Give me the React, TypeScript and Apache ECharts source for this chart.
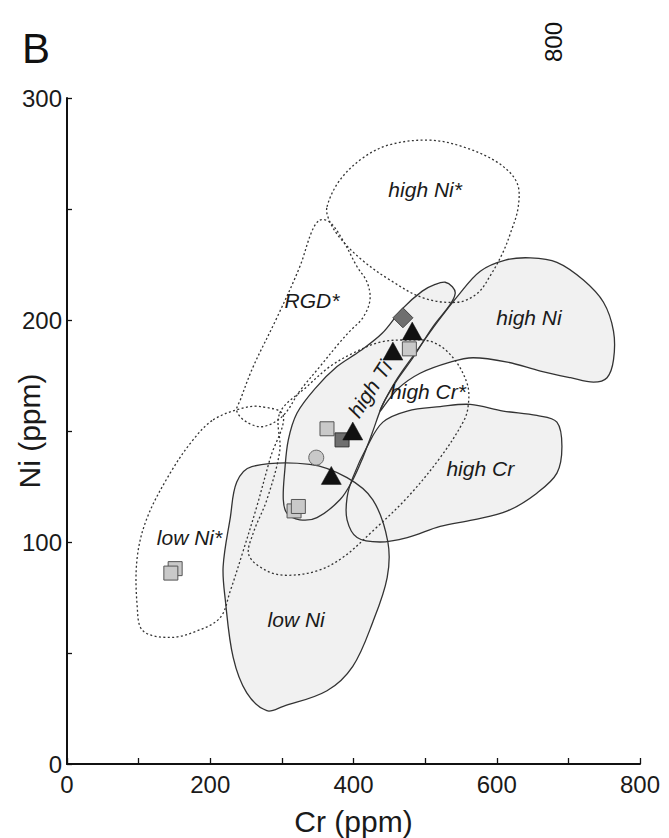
import React, { useEffect, useRef } from "react";
import * as echarts from "echarts";

// ---- axes ----
const xRange = [0, 800];
const xStep = 100;
const xLabelStep = 200;
const yRange = [0, 300];
const yStep = 50;
const yLabelStep = 100;

// ---- field outlines (Cr ppm, Ni ppm) ----
const lowNiField = [
  [258, 134], [339, 135], [391, 129], [427, 119], [448, 100], [447, 84], [427, 64], [399, 44],
  [363, 33], [302, 26], [279, 24], [251, 32], [232, 48], [221, 74], [218, 89], [228, 111], [237, 127],
];
const highCrField = [
  [419, 143], [441, 154], [475, 159], [521, 161], [563, 162], [609, 159], [656, 157], [684, 154],
  [691, 143], [684, 131], [656, 122], [615, 114], [567, 110], [521, 107], [475, 102], [437, 100],
  [405, 102], [391, 110], [391, 120], [399, 129],
];
const highNiField = [
  [437, 159], [458, 172], [486, 185], [517, 199], [546, 211], [577, 222], [612, 227], [647, 228],
  [684, 226], [721, 218], [749, 208], [763, 195], [763, 182], [754, 174], [735, 172], [703, 174],
  [661, 177], [615, 181], [567, 183], [535, 181], [493, 176], [462, 169],
];
const highTiField = [
  [528, 217], [538, 215], [542, 212], [535, 207], [511, 197], [483, 183], [461, 173], [441, 162],
  [426, 149], [413, 138], [399, 128], [381, 119], [349, 111], [325, 110], [307, 113], [302, 119],
  [304, 132], [309, 146], [321, 158], [346, 169], [377, 179], [409, 186], [440, 194], [468, 205],
  [496, 213], [514, 216],
];
const highNiStarField = [
  [363, 251], [381, 263], [413, 273], [451, 279], [507, 281], [553, 278], [601, 271], [628, 262],
  [630, 251], [619, 239], [608, 230], [591, 220], [573, 212], [545, 208], [497, 210], [451, 218],
  [412, 227], [381, 237], [366, 245],
];
const rgdStarField = [
  [353, 245], [367, 244], [385, 236], [405, 224], [419, 217], [423, 209], [413, 201], [395, 195],
  [381, 190], [353, 179], [325, 168], [302, 157], [274, 152], [251, 154], [237, 159], [242, 164],
  [260, 179], [293, 201], [325, 224], [342, 240],
];
const lowNiStarField = [
  [204, 155], [242, 160], [270, 161], [302, 157], [284, 138], [265, 116], [246, 96], [228, 78],
  [214, 66], [182, 60], [144, 57], [106, 60], [98, 71], [98, 93], [112, 111], [144, 131], [176, 146],
];
const highCrStarField = [
  [297, 158], [335, 170], [367, 179], [399, 185], [437, 190], [475, 191], [511, 190], [539, 183],
  [559, 171], [560, 161], [553, 154], [521, 138], [475, 120], [427, 105], [385, 93], [349, 87],
  [307, 85], [279, 87], [254, 94], [260, 104], [279, 119], [297, 141],
];

const solidFields = [lowNiField, highCrField, highNiField, highTiField];
const dashedFields = [highNiStarField, rgdStarField, lowNiStarField, highCrStarField];

// ---- field names ----
const fieldNames = ["high Ni*", "RGD*", "high Ni", "high Ti", "high Cr*", "high Cr", "low Ni*", "low Ni"];
const fieldNameAnchors = [
  [500, 259], [342, 209], [645, 201], [423, 169], [504, 168], [577, 133], [171, 102], [320, 65],
];
const fieldNameRotations = [0, 0, 0, 57, 0, 0, 0, 0];

// ---- samples (Cr ppm, Ni ppm) ----
const lightSquares = [[478, 187], [363, 151], [317, 114], [323, 116], [151, 88], [145, 86]];
const darkSquares = [[384, 146]];
const triangles = [[482, 195], [455, 186], [399, 150], [369, 130]];
const diamonds = [[469, 201]];
const circles = [[348, 138]];

const FONT = '"Liberation Sans", Arial, Helvetica, sans-serif';

function polySeries(fields: number[][][], mode: "fill" | "solid" | "dashed", z: number) {
  return {
    type: "custom",
    coordinateSystem: "cartesian2d",
    silent: true,
    z,
    clip: false,
    data: fields.map((f) => f[0]),
    renderItem: (params: any, api: any) => {
      const pts = fields[params.dataIndex].map((p) => api.coord(p));
      const style: any =
        mode === "fill"
          ? { fill: "#f1f1f1", stroke: null }
          : mode === "solid"
          ? { fill: null, stroke: "#333", lineWidth: 1.3 }
          : { fill: null, stroke: "#333", lineWidth: 1.3, lineDash: [2, 2.4] };
      return { type: "polygon", shape: { points: pts, smooth: 0.35 }, style };
    },
  };
}

export default function App() {
  const ref = useRef<HTMLDivElement>(null);
  useEffect(() => {
    const chart = echarts.init(ref.current!, null, { renderer: "svg" });
    const option: any = {
      animation: false,
      grid: { left: 67, top: 98, width: 573, height: 666, containLabel: false, outerBoundsMode: "none" },
      xAxis: {
        type: "value",
        min: xRange[0],
        max: xRange[1],
        interval: xStep,
        splitLine: { show: false },
        axisLine: { lineStyle: { color: "#111", width: 2 } },
        axisTick: { inside: true, length: 6, lineStyle: { color: "#111", width: 1.3 } },
        axisLabel: {
          formatter: (v: number) => (v % xLabelStep === 0 ? String(v) : ""),
          fontSize: 24,
          fontFamily: FONT,
          color: "#1a1a1a",
          margin: 8,
        },
        name: "Cr (ppm)",
        nameLocation: "middle",
        nameGap: 42,
        nameMoveOverlap: false,
        nameTextStyle: { fontSize: 30, fontFamily: FONT, color: "#1a1a1a" },
      },
      yAxis: {
        type: "value",
        min: yRange[0],
        max: yRange[1],
        interval: yStep,
        splitLine: { show: false },
        axisLine: { lineStyle: { color: "#111", width: 2 } },
        axisTick: { inside: true, length: 5, lineStyle: { color: "#111", width: 1.3 } },
        axisLabel: {
          formatter: (v: number) => (v % yLabelStep === 0 ? String(v) : ""),
          fontSize: 24,
          fontFamily: FONT,
          color: "#1a1a1a",
          margin: 5,
        },
        name: "Ni (ppm)",
        nameLocation: "middle",
        nameGap: 23,
        nameMoveOverlap: false,
        nameTextStyle: { fontSize: 30, fontFamily: FONT, color: "#1a1a1a" },
      },
      graphic: [
        {
          type: "text",
          x: 36,
          y: 48,
          style: { text: "B", font: `42px ${FONT}`, fill: "#111", textAlign: "center", textVerticalAlign: "middle" },
        },
        {
          type: "text",
          x: 553,
          y: 42,
          rotation: Math.PI / 2,
          style: { text: "800", font: `24px ${FONT}`, fill: "#111", textAlign: "center", textVerticalAlign: "middle" },
        },
      ],
      series: [
        polySeries(solidFields, "fill", 1),
        polySeries(solidFields, "solid", 2),
        polySeries(dashedFields, "dashed", 3),
        {
          type: "scatter",
          z: 4,
          silent: true,
          symbol: "rect",
          symbolSize: 14,
          data: lightSquares,
          itemStyle: { color: "#c9c9c9", borderColor: "#555", borderWidth: 1, opacity: 1 },
        },
        {
          type: "scatter",
          z: 4,
          silent: true,
          symbol: "rect",
          symbolSize: 14,
          data: darkSquares,
          itemStyle: { color: "#6f6f6f", borderColor: "#333", borderWidth: 1, opacity: 1 },
        },
        {
          type: "scatter",
          z: 4,
          silent: true,
          symbol: "circle",
          symbolSize: 15,
          data: circles,
          itemStyle: { color: "#c9c9c9", borderColor: "#666", borderWidth: 1, opacity: 1 },
        },
        {
          type: "scatter",
          z: 4,
          silent: true,
          symbol: "diamond",
          symbolSize: [20, 20],
          data: diamonds,
          itemStyle: { color: "#6f6f6f", borderColor: "#444", borderWidth: 1, opacity: 1 },
        },
        {
          type: "scatter",
          z: 5,
          silent: true,
          symbol: "triangle",
          symbolSize: [20, 18],
          data: triangles,
          itemStyle: { color: "#111", borderColor: "#111", borderWidth: 0.5, opacity: 1 },
        },
        {
          type: "custom",
          coordinateSystem: "cartesian2d",
          silent: true,
          z: 6,
          clip: false,
          data: fieldNameAnchors,
          renderItem: (params: any, api: any) => {
            const i = params.dataIndex;
            const p = api.coord(fieldNameAnchors[i]);
            return {
              type: "text",
              x: p[0],
              y: p[1],
              rotation: (fieldNameRotations[i] * Math.PI) / 180,
              style: {
                text: fieldNames[i],
                font: `italic 21px ${FONT}`,
                fill: "#1a1a1a",
                textAlign: "center",
                textVerticalAlign: "middle",
              },
            };
          },
        },
      ],
    };
    chart.setOption(option);
    return () => chart.dispose();
  }, []);
  return <div ref={ref} style={{ position: "absolute", left: 0, top: 0, width: 669, height: 838 }} />;
}
